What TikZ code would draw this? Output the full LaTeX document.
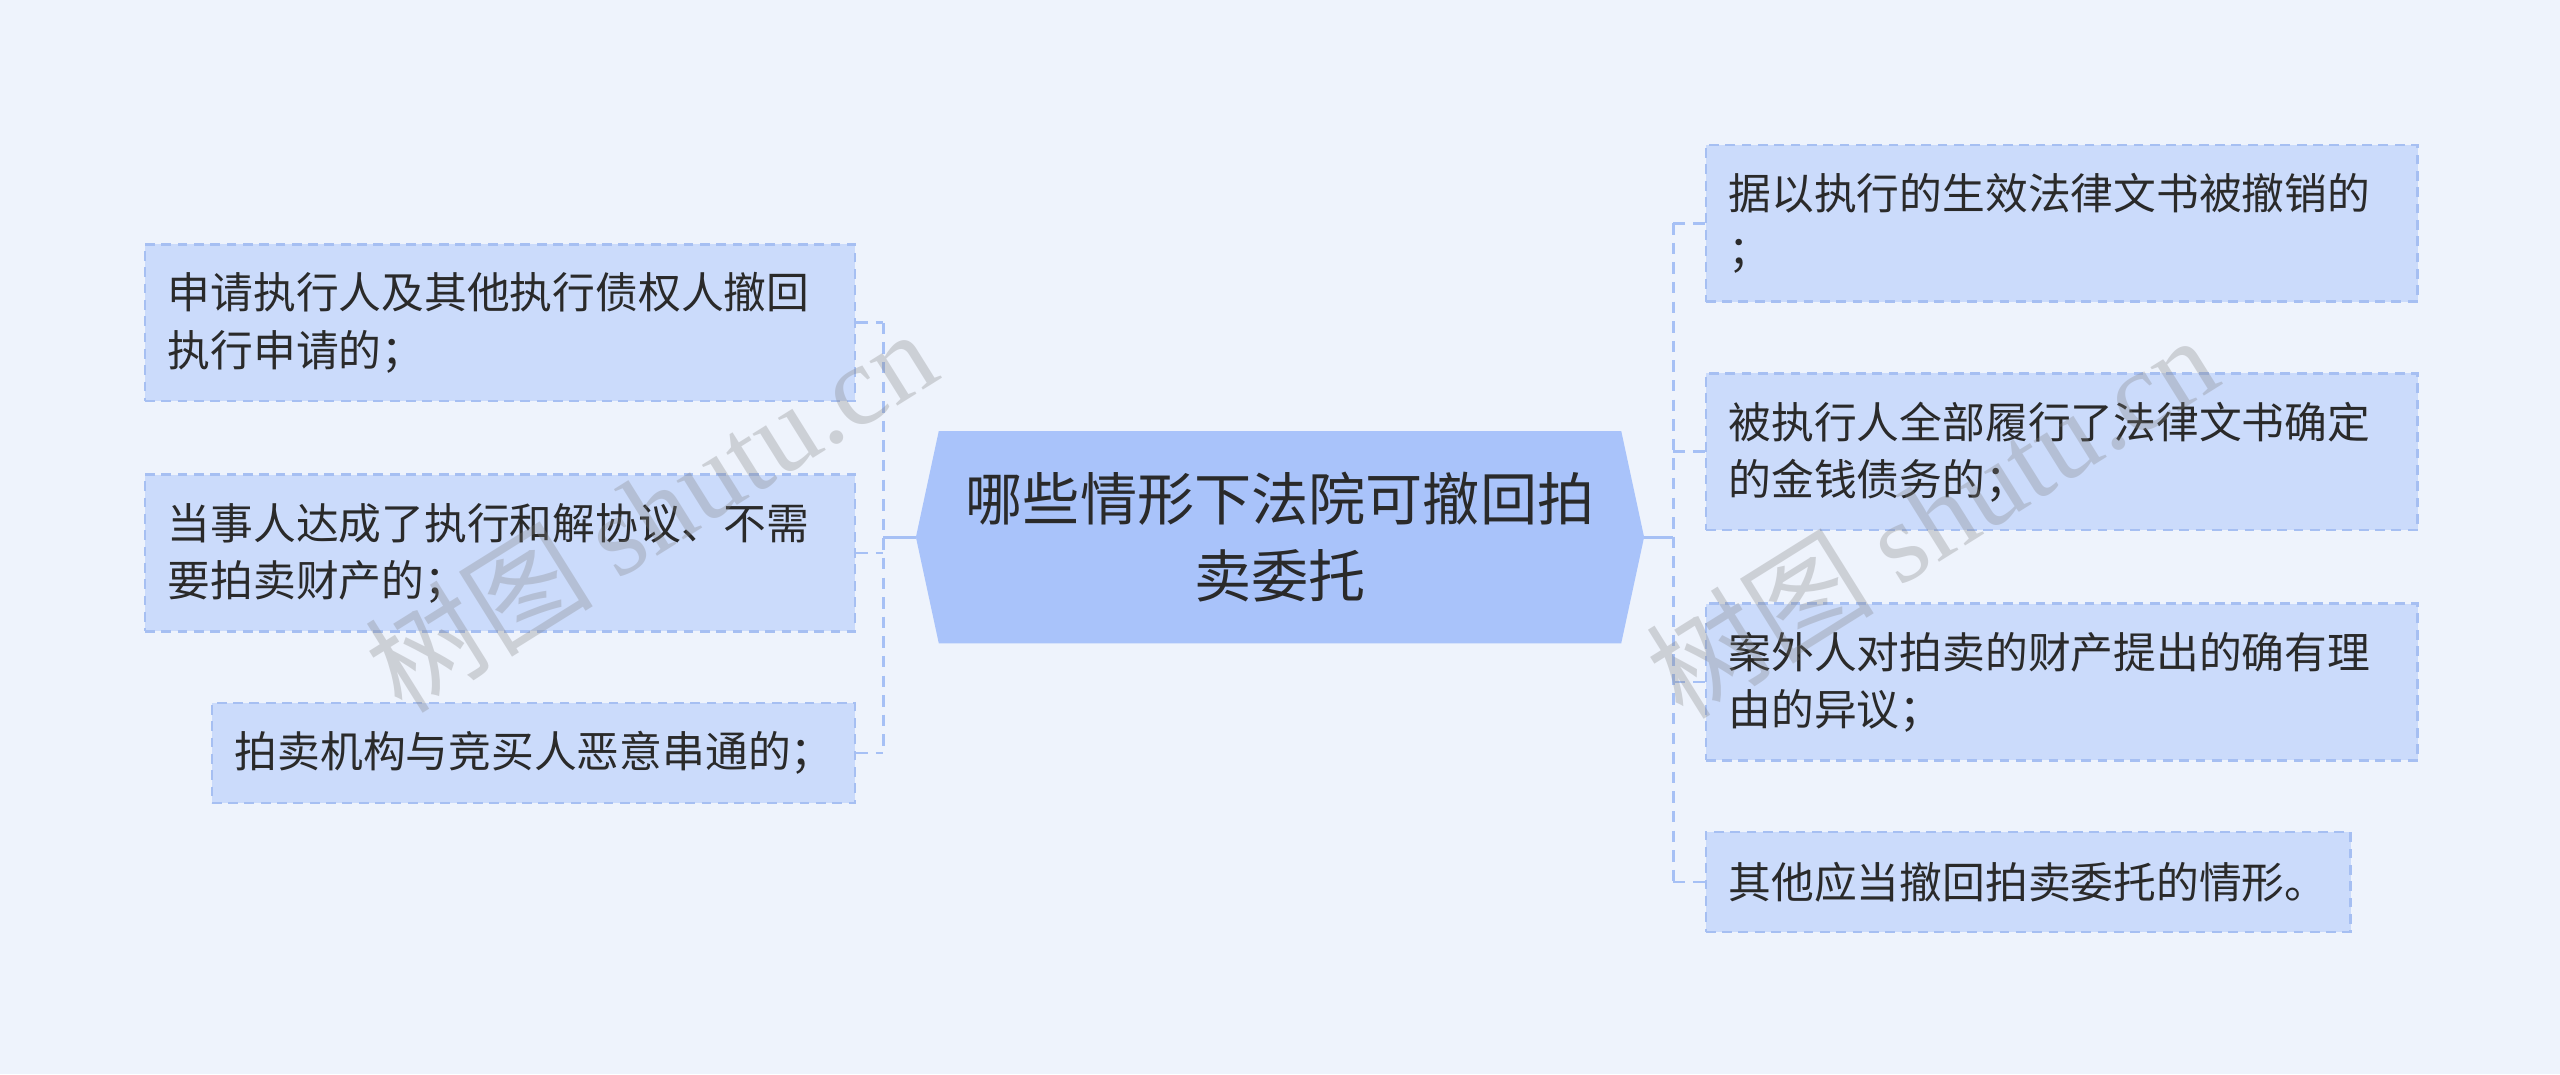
\documentclass[tikz,border=0pt]{standalone}
\usepackage{fontspec}
\setmainfont{Noto Sans CJK SC}
\newfontfamily\wmcjk{Noto Sans CJK SC}
\newfontfamily\wmserif{Liberation Serif}
\definecolor{bgc}{HTML}{EEF3FC}
\definecolor{cfill}{HTML}{A9C3FA}
\definecolor{lfill}{HTML}{CBDBFB}
\definecolor{lborder}{HTML}{A6BFF2}
\definecolor{conn}{HTML}{A6C0F5}
\definecolor{txt}{HTML}{2A2A2A}
\tikzset{
  leafbox/.style={draw=lborder, fill=lfill, dash pattern=on 6pt off 4pt, line width=1.5pt,
    rectangle, inner xsep=14pt, inner ysep=0pt, align=left, text=txt,
    font=\fontsize{26.2}{35}\selectfont, anchor=north west},
  ctext/.style={align=center, text=txt, font=\fontsize{35}{47}\selectfont, inner sep=0pt},
  solidconn/.style={draw=conn, line width=1.7pt},
  dashconn/.style={draw=conn, line width=1.7pt, dash pattern=on 7pt off 5pt},
  wmark/.style={text=gray, opacity=0.3, font=\fontsize{70}{70}\selectfont, inner sep=0pt}
}
\begin{document}
\begin{tikzpicture}[x=1pt,y=-1pt]
\fill[bgc] (0,0) rectangle (1568,658);
\useasboundingbox (0,0) rectangle (1568,658);

% central topic
\fill[cfill] (575,264) -- (993,264) -- (1007,329) -- (993,394) -- (575,394) -- (561,329) -- cycle;
\node[ctext] (c) at (784,329) {哪些情形下法院可撤回拍\\卖委托};
\coordinate (cL) at (561,329);
\coordinate (cR) at (1007,329);

% left leaves
\node[leafbox, text width=407pt, minimum height=96pt] (L1) at (88,149) {申请执行人及其他执行债权人撤回\\执行申请的；};
\node[leafbox, text width=407pt, minimum height=96pt] (L2) at (88,290) {当事人达成了执行和解协议、不需\\要拍卖财产的；};
\node[leafbox, text width=366pt, minimum height=61pt] (L3) at (129,430) {拍卖机构与竞买人恶意串通的；};

% right leaves
\node[leafbox, text width=408pt, minimum height=96pt] (R1) at (1044,88) {据以执行的生效法律文书被撤销的\\；};
\node[leafbox, text width=408pt, minimum height=96pt] (R2) at (1044,228) {被执行人全部履行了法律文书确定\\的金钱债务的；};
\node[leafbox, text width=408pt, minimum height=96pt] (R3) at (1044,369) {案外人对拍卖的财产提出的确有理\\由的异议；};
\node[leafbox, text width=367pt, minimum height=61pt] (R4) at (1044,509) {其他应当撤回拍卖委托的情形。};

% junctions
\coordinate (lj) at (541,329);
\coordinate (rj) at (1025,329);

\draw[solidconn] (cL) -- (lj);
\draw[dashconn] (lj |- L1.east) -- (lj |- L3.east);
\draw[dashconn] (L1.east) -- (lj |- L1.east);
\draw[dashconn] (L2.east) -- (lj |- L2.east);
\draw[dashconn] (L3.east) -- (lj |- L3.east);

\draw[solidconn] (cR) -- (rj);
\draw[dashconn] (rj |- R1.west) -- (rj |- R4.west);
\draw[dashconn] (R1.west) -- (rj |- R1.west);
\draw[dashconn] (R2.west) -- (rj |- R2.west);
\draw[dashconn] (R3.west) -- (rj |- R3.west);
\draw[dashconn] (R4.west) -- (rj |- R4.west);

% watermarks
\node[wmark, rotate=32] (w1) at (398,312) {{\wmcjk 树图} {\wmserif shutu.cn}};
\node[wmark, rotate=32] (w2) at (1183,316) {{\wmcjk 树图} {\wmserif shutu.cn}};
\end{tikzpicture}
\end{document}
